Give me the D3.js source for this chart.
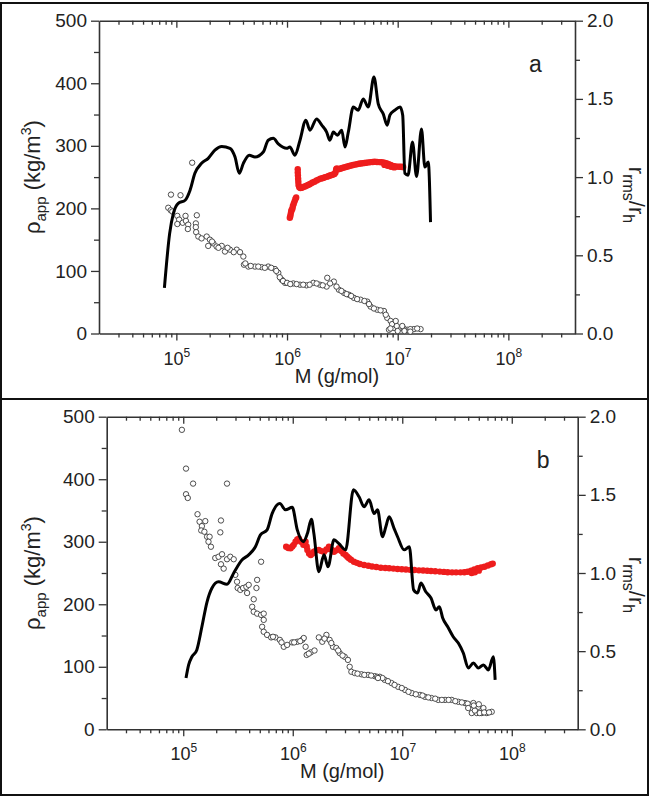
<!DOCTYPE html>
<html>
<head>
<meta charset="utf-8">
<script src="https://cdn.jsdelivr.net/npm/d3@7"></script>
<style>
  body { margin: 0; background: #fff; }
  svg { display: block; }
  text { font-family: "Liberation Sans", Arial, sans-serif; fill: #222; }
</style>
</head>
<body>
<svg id="chart" width="649" height="796"></svg>
<script>
// ---- panel a ----
// black curve: [M (g/mol), value on left axis]
var aLine = [
  [7.8e4, 73], [8.7e4, 160], [9.4e4, 192], [1.04e5, 208], [1.2e5, 213], [1.33e5, 229],
  [1.47e5, 256], [1.69e5, 272], [1.94e5, 280], [2.23e5, 293], [2.57e5, 299], [3.05e5, 296],
  [3.39e5, 282], [3.7e5, 256], [4.03e5, 272], [4.56e5, 285], [5.13e5, 282], [6.1e5, 290],
  [6.76e5, 309], [7.51e5, 312], [8.34e5, 303], [9.93e5, 296], [1.06e6, 298], [1.18e6, 285],
  [1.31e6, 309], [1.48e6, 341], [1.61e6, 325], [1.85e6, 343], [2.06e6, 333], [2.28e6, 322],
  [2.44e6, 309], [2.62e6, 322], [2.85e6, 317], [3.12e6, 325], [3.34e6, 298], [3.58e6, 322],
  [3.97e6, 362], [4.4e6, 357], [4.88e6, 375], [5.42e6, 362], [6.1e6, 410], [6.67e6, 367],
  [7.4e6, 351], [8.04e6, 333], [8.5e6, 349], [9.44e6, 357], [1.05e7, 362], [1.11e7, 349],
  [1.16e7, 256], [1.24e7, 253], [1.36e7, 306], [1.48e7, 251], [1.64e7, 327], [1.76e7, 266],
  [1.89e7, 274], [1.98e7, 178]
];
// open circles: [M, value on left axis]
var aCircles = [
  [8.45e4, 201], [8.89e4, 197], [9.19e4, 195], [8.94e4, 222], [1.09e5, 221], [1.39e5, 273],
  [1.02e5, 188], [1.06e5, 182], [1.14e5, 177], [1.02e5, 175], [1.21e5, 188], [1.22e5, 180],
  [1.28e5, 174], [1.27e5, 167], [1.53e5, 189], [1.5e5, 176], [1.5e5, 170], [1.51e5, 162],
  [1.58e5, 155], [1.69e5, 152], [1.88e5, 155], [2.01e5, 150], [2.16e5, 144], [1.94e5, 140],
  [2.31e5, 139], [2.57e5, 140], [2.75e5, 131], [3.05e5, 134], [3.51e5, 134], [3.76e5, 130],
  [4.03e5, 123], [4.08e5, 110], [4.47e5, 107], [5.13e5, 107], [5.9e5, 106], [6.76e5, 107],
  [7.78e5, 103], [8.34e5, 97], [8.95e5, 86], [9.58e5, 81], [1.14e6, 80], [1.31e6, 78],
  [1.5e6, 77], [1.73e6, 81], [1.98e6, 78], [2.28e6, 75], [2.31e6, 89], [2.65e6, 83],
  [2.94e6, 70], [3.27e6, 65], [3.62e6, 62], [4.02e6, 57], [4.62e6, 54], [5.31e6, 51],
  [5.69e6, 43], [6.53e6, 38], [7.51e6, 36], [8.04e6, 25], [8.63e6, 20], [8.34e6, 6],
  [9.25e6, 9], [1.06e7, 9], [1.22e7, 6], [1.4e7, 7], [1.61e7, 7],
  [2.1e5, 147], [2.4e5, 137], [2.9e5, 137], [3.3e5, 130], [4.2e5, 112], [4.7e5, 108],
  [5.5e5, 107], [6.3e5, 105], [7.2e5, 105], [8.0e5, 100], [8.6e5, 90], [9.2e5, 84],
  [1.0e6, 81], [1.07e6, 79], [1.22e6, 79], [1.4e6, 78], [1.6e6, 78], [1.85e6, 80],
  [2.1e6, 77], [2.45e6, 80], [2.8e6, 75], [3.1e6, 68], [3.45e6, 63], [3.8e6, 60],
  [4.3e6, 55], [5.0e6, 52], [5.5e6, 47], [6.1e6, 40], [7.0e6, 37], [7.8e6, 30],
  [8.9e6, 15], [9.8e6, 12], [1.13e7, 8], [1.3e7, 7], [1.5e7, 8], [8.6e6, 8],
  [1.0e7, 4], [1.15e7, 4], [1.3e7, 3], [9.6e6, 20], [1.1e7, 12]
];
// red dots: [M, value on right axis]
var aRed = [
  [1.06e6, 0.74], [1.07e6, 0.75], [1.08e6, 0.765], [1.09e6, 0.78], [1.1e6, 0.79], [1.12e6, 0.8],
  [1.13e6, 0.815], [1.15e6, 0.83], [1.17e6, 0.845], [1.19e6, 0.86], [1.21e6, 0.87],
  [1.25e6, 1.05], [1.25e6, 1.03], [1.255e6, 1.01], [1.26e6, 0.99], [1.265e6, 0.97], [1.27e6, 0.95],
  [1.29e6, 0.935], [1.32e6, 0.93], [1.36e6, 0.932], [1.4e6, 0.937], [1.45e6, 0.94], [1.5e6, 0.945],
  [1.55e6, 0.95], [1.6e6, 0.955], [1.65e6, 0.96], [1.7e6, 0.965], [1.77e6, 0.97], [1.85e6, 0.978],
  [1.92e6, 0.984], [2.0e6, 0.99], [2.08e6, 0.993], [2.15e6, 0.996], [2.22e6, 1.0], [2.3e6, 1.003],
  [2.38e6, 1.007], [2.45e6, 1.01], [2.53e6, 1.013], [2.6e6, 1.016], [2.68e6, 1.02], [2.74e6, 1.03],
  [2.78e6, 1.05], [2.82e6, 1.055], [2.88e6, 1.05], [2.97e6, 1.052], [3.06e6, 1.055], [3.16e6, 1.058],
  [3.27e6, 1.061], [3.4e6, 1.065], [3.52e6, 1.068], [3.65e6, 1.071], [3.8e6, 1.074], [3.95e6, 1.077],
  [4.1e6, 1.08], [4.27e6, 1.082], [4.45e6, 1.085], [4.62e6, 1.087], [4.8e6, 1.089], [5.0e6, 1.09],
  [5.2e6, 1.092], [5.45e6, 1.094], [5.7e6, 1.096], [5.95e6, 1.097], [6.2e6, 1.098], [6.5e6, 1.097],
  [6.8e6, 1.096], [7.1e6, 1.095], [7.4e6, 1.093], [7.7e6, 1.09], [8.0e6, 1.087], [8.3e6, 1.083],
  [8.6e6, 1.078], [8.9e6, 1.073], [9.2e6, 1.07], [9.5e6, 1.068], [9.9e6, 1.067], [1.03e7, 1.066],
  [1.07e7, 1.066], [1.1e7, 1.065], [1.12e7, 1.065], [7.6e6, 1.078], [8.1e6, 1.072], [8.7e6, 1.066],
  [9.3e6, 1.062]
];

// ---- panel b ----
var bLine = [
  [1.06e5, 82], [1.12e5, 103], [1.2e5, 116], [1.33e5, 127], [1.48e5, 164], [1.65e5, 204],
  [1.83e5, 226], [2.1e5, 236], [2.51e5, 232], [2.89e5, 250], [3.45e5, 271], [3.96e5, 279],
  [4.56e5, 292], [5.07e5, 311], [5.83e5, 319], [6.48e5, 345], [7.62e5, 361], [8.59e5, 351],
  [9.89e5, 355], [1.1e6, 319], [1.25e6, 300], [1.36e6, 313], [1.48e6, 336], [1.56e6, 313],
  [1.73e6, 252], [1.93e6, 279], [2.1e6, 260], [2.38e6, 303], [2.64e6, 297], [3.04e6, 287],
  [3.58e6, 383], [4.03e6, 372], [4.48e6, 356], [4.98e6, 367], [5.53e6, 345], [5.94e6, 351],
  [6.6e6, 308], [7.08e6, 324], [7.59e6, 340], [8.43e6, 321], [9.06e6, 308], [1.04e7, 287],
  [1.16e7, 292], [1.27e7, 223], [1.38e7, 218], [1.48e7, 234], [1.64e7, 220], [1.83e7, 210],
  [2.03e7, 191], [2.18e7, 196], [2.34e7, 178], [2.6e7, 164], [2.92e7, 148], [3.25e7, 138],
  [3.61e7, 122], [4.01e7, 98], [4.46e7, 106], [4.95e7, 98], [5.51e7, 103], [6.11e7, 95],
  [6.79e7, 116], [7.05e7, 79]
];
var bCircles = [
  [9.72e4, 479], [1.06e5, 417], [1.06e5, 376], [1.1e5, 370], [1.23e5, 393], [2.51e5, 393],
  [1.35e5, 344], [1.41e5, 332], [1.48e5, 325], [1.59e5, 333], [1.46e5, 318], [1.56e5, 316],
  [1.65e5, 308], [1.74e5, 308], [1.7e5, 300], [1.79e5, 292], [2.21e5, 334], [2.18e5, 315],
  [1.96e5, 274], [2.1e5, 276], [2.26e5, 280], [2.21e5, 264], [2.34e5, 257], [2.51e5, 272],
  [2.69e5, 276], [2.89e5, 272], [2.99e5, 247], [3.1e5, 236], [3.14e5, 226], [3.32e5, 223],
  [3.52e5, 226], [3.77e5, 228], [3.96e5, 231], [3.83e5, 218], [5.14e5, 268], [4.73e5, 239],
  [4.66e5, 226], [4.4e5, 208], [4.26e5, 196], [4.4e5, 188], [4.73e5, 185], [5.14e5, 183],
  [5.43e5, 185], [5.43e5, 175], [5.25e5, 164], [5.43e5, 156], [5.83e5, 151], [6.35e5, 147],
  [6.95e5, 147], [7.62e5, 143], [8.28e5, 132], [8.89e5, 135], [9.89e5, 139], [1.1e6, 140],
  [1.22e6, 143], [1.26e6, 146], [1.31e6, 132], [1.34e6, 119], [1.46e6, 123], [1.58e6, 126],
  [1.73e6, 147], [1.86e6, 140], [2.03e6, 151], [2.17e6, 143], [2.33e6, 132], [2.5e6, 130],
  [2.68e6, 122], [2.98e6, 116], [3.19e6, 111], [3.31e6, 100], [3.43e6, 92], [3.68e6, 90],
  [4.24e6, 88], [4.87e6, 87], [5.61e6, 85], [6.23e6, 84], [6.92e6, 79], [7.97e6, 74],
  [9.16e6, 68], [1.06e7, 63], [1.22e7, 58], [1.45e7, 55], [1.61e7, 52], [1.85e7, 50],
  [2.13e7, 47], [2.46e7, 47], [2.83e7, 47], [3.25e7, 44], [3.74e7, 42], [4.16e7, 39],
  [4.31e7, 26], [4.79e7, 26], [5.32e7, 26], [5.91e7, 26], [6.56e7, 28], [4.46e7, 42],
  [4.95e7, 36], [5.51e7, 34],
  [1.95e6, 145], [2.25e6, 138], [2.6e6, 126], [2.85e6, 118], [3.9e6, 89], [4.5e6, 87],
  [5.2e6, 86], [5.9e6, 84], [6.6e6, 82], [7.4e6, 77], [8.5e6, 71], [9.9e6, 66],
  [1.14e7, 60], [1.33e7, 56], [1.53e7, 54], [1.73e7, 51], [2.0e7, 49], [2.3e7, 47],
  [2.65e7, 47], [3.05e7, 45], [3.5e7, 43], [3.95e7, 41], [4.6e7, 30], [5.1e7, 26],
  [5.6e7, 27], [6.2e7, 27], [4.0e7, 34], [4.5e7, 38], [5.0e7, 40], [6.0e6, 82],
  [1.03e6, 139], [1.17e6, 141], [1.4e6, 121], [6.6e5, 148], [7.9e5, 139]
];
var bRed = [
  [8.71e5, 1.168], [9.1e5, 1.16], [9.55e5, 1.158], [9.9e5, 1.17], [1.02e6, 1.18], [1.06e6, 1.2],
  [1.1e6, 1.215], [1.14e6, 1.22], [1.19e6, 1.2], [1.25e6, 1.18], [1.28e6, 1.19], [1.31e6, 1.2],
  [1.34e6, 1.17], [1.36e6, 1.147], [1.41e6, 1.125], [1.46e6, 1.115], [1.51e6, 1.125], [1.56e6, 1.136],
  [1.64e6, 1.145], [1.73e6, 1.147], [1.83e6, 1.14], [1.93e6, 1.136], [2.03e6, 1.15], [2.14e6, 1.168],
  [2.25e6, 1.15], [2.38e6, 1.136], [2.5e6, 1.145], [2.64e6, 1.158], [2.78e6, 1.14], [2.9e6, 1.125],
  [3.04e6, 1.115], [3.15e6, 1.104], [3.26e6, 1.094], [3.4e6, 1.085], [3.62e6, 1.072], [3.85e6, 1.065],
  [4.1e6, 1.058], [4.48e6, 1.051], [4.9e6, 1.046], [5.3e6, 1.042], [5.8e6, 1.038], [6.37e6, 1.034],
  [7.0e6, 1.032], [7.6e6, 1.03], [8.3e6, 1.028], [9.06e6, 1.026], [9.9e6, 1.024], [1.08e7, 1.022],
  [1.18e7, 1.02], [1.29e7, 1.019], [1.42e7, 1.017], [1.55e7, 1.016], [1.69e7, 1.014], [1.83e7, 1.013],
  [2.0e7, 1.011], [2.2e7, 1.009], [2.4e7, 1.007], [2.6e7, 1.005], [2.85e7, 1.004], [3.1e7, 1.004],
  [3.4e7, 1.004], [3.69e7, 1.005], [3.95e7, 1.008], [4.25e7, 1.015], [4.55e7, 1.022], [4.89e7, 1.03],
  [5.25e7, 1.035], [5.63e7, 1.04], [6.05e7, 1.048], [6.47e7, 1.056], [6.7e7, 1.06],
  [4.3e7, 1.0], [4.6e7, 1.005], [5.0e7, 1.015]
];

var xTicks = [1e5, 1e6, 1e7, 1e8];
var leftTicks = [0, 100, 200, 300, 400, 500];
var rightTicks = [0, 0.5, 1.0, 1.5, 2.0];

var panels = [
  { box: [1, 3, 647, 396], left: 99, right: 575, top: 20.7, bottom: 333.5,
    line: aLine, circles: aCircles, red: aRed, letter: "a", rLabelY: 195 },
  { box: [1, 399, 647, 396], left: 106.7, right: 577.7, top: 416.7, bottom: 729.3,
    line: bLine, circles: bCircles, red: bRed, letter: "b", rLabelY: 585 }
];

var svg = d3.select("#chart");

function minorLogTicks(domain) {
  var out = [];
  for (var e = 4; e <= 8; e++) {
    for (var k = 2; k <= 9; k++) {
      var v = k * Math.pow(10, e);
      if (v > domain[0] && v < domain[1]) out.push(v);
    }
  }
  return out;
}

function styleAxis(g) {
  g.select(".domain").attr("stroke", "#333").attr("stroke-width", 1.6);
  g.selectAll(".tick line").attr("stroke", "#333").attr("stroke-width", 1.3);
}

function drawPanel(p) {
  svg.append("rect")
    .attr("x", p.box[0]).attr("y", p.box[1])
    .attr("width", p.box[2]).attr("height", p.box[3])
    .attr("fill", "none").attr("stroke", "#111").attr("stroke-width", 2);

  var x = d3.scaleLog().domain([2e4, 4e8]).range([p.left, p.right]);
  var yL = d3.scaleLinear().domain([0, 500]).range([p.bottom, p.top]);
  var yR = d3.scaleLinear().domain([0, 2]).range([p.bottom, p.top]);
  var xMinor = minorLogTicks(x.domain());

  // bottom axis
  var gb = svg.append("g").attr("transform", "translate(0," + p.bottom + ")")
    .call(d3.axisBottom(x).tickValues(xTicks).tickSize(7).tickSizeOuter(0).tickFormat(""));
  styleAxis(gb);
  gb.selectAll(".tick").append("text")
    .attr("y", 31).attr("text-anchor", "middle").attr("font-size", 18)
    .each(function (d) {
      var t = d3.select(this);
      t.append("tspan").text("10");
      t.append("tspan").attr("dy", -8).attr("font-size", 12).text(Math.round(Math.log10(d)));
    });
  var gbm = svg.append("g").attr("transform", "translate(0," + p.bottom + ")")
    .call(d3.axisBottom(x).tickValues(xMinor).tickSize(4).tickFormat(""));
  gbm.select(".domain").remove();
  styleAxis(gbm);

  // top axis, ticks inward
  var gt = svg.append("g").attr("transform", "translate(0," + p.top + ")")
    .call(d3.axisTop(x).tickValues(xTicks).tickSize(-7).tickSizeOuter(0).tickFormat(""));
  styleAxis(gt);
  var gtm = svg.append("g").attr("transform", "translate(0," + p.top + ")")
    .call(d3.axisTop(x).tickValues(xMinor).tickSize(-4).tickFormat(""));
  gtm.select(".domain").remove();
  styleAxis(gtm);

  // left axis
  var gl = svg.append("g").attr("transform", "translate(" + p.left + ",0)")
    .call(d3.axisLeft(yL).tickValues(leftTicks).tickSize(8).tickSizeOuter(0).tickPadding(4));
  styleAxis(gl);
  gl.selectAll(".tick text").attr("font-size", 19).attr("fill", "#222").attr("font-family", null);
  var glm = svg.append("g").attr("transform", "translate(" + p.left + ",0)")
    .call(d3.axisLeft(yL).tickValues([50, 150, 250, 350, 450]).tickSize(5).tickFormat(""));
  glm.select(".domain").remove();
  styleAxis(glm);

  // right axis
  var gr = svg.append("g").attr("transform", "translate(" + p.right + ",0)")
    .call(d3.axisRight(yR).tickValues(rightTicks).tickSize(8).tickSizeOuter(0).tickPadding(4)
      .tickFormat(d3.format(".1f")));
  styleAxis(gr);
  gr.selectAll(".tick text").attr("font-size", 19).attr("fill", "#222").attr("font-family", null);
  var grm = svg.append("g").attr("transform", "translate(" + p.right + ",0)")
    .call(d3.axisRight(yR).tickValues([0.25, 0.75, 1.25, 1.75]).tickSize(5).tickFormat(""));
  grm.select(".domain").remove();
  styleAxis(grm);

  // data
  var plot = svg.append("g");
  plot.selectAll("circle.open").data(p.circles).enter().append("circle")
    .attr("class", "open")
    .attr("cx", function (d) { return x(d[0]); })
    .attr("cy", function (d) { return yL(d[1]); })
    .attr("r", 2.7)
    .attr("fill", "#fff").attr("stroke", "#3a3a3a").attr("stroke-width", 0.9);

  plot.selectAll("circle.red").data(p.red).enter().append("circle")
    .attr("class", "red")
    .attr("cx", function (d) { return x(d[0]); })
    .attr("cy", function (d) { return yR(d[1]); })
    .attr("r", 3.2)
    .attr("fill", "#ee1d1d");

  var line = d3.line()
    .x(function (d) { return x(d[0]); })
    .y(function (d) { return yL(d[1]); })
    .curve(d3.curveMonotoneX);
  plot.append("path").datum(p.line)
    .attr("d", line)
    .attr("fill", "none").attr("stroke", "#000").attr("stroke-width", 3)
    .attr("stroke-linejoin", "round");

  // labels
  var cx = (p.left + p.right) / 2;
  svg.append("text").attr("x", cx).attr("y", p.bottom + 49)
    .attr("text-anchor", "middle").attr("font-size", 20).text("M (g/mol)");

  var yl = svg.append("text")
    .attr("transform", "translate(40," + (p.top + p.bottom) / 2 + ") rotate(-90)")
    .attr("text-anchor", "middle").attr("font-size", 22);
  yl.append("tspan").text("\u03c1");
  yl.append("tspan").attr("font-size", 15).attr("dy", 6).text("app");
  yl.append("tspan").attr("dy", -6).text(" (kg/m");
  yl.append("tspan").attr("font-size", 14).attr("dy", -9).text("3");
  yl.append("tspan").attr("dy", 9).text(")");

  var yr = svg.append("text")
    .attr("transform", "translate(629," + p.rLabelY + ") rotate(90)")
    .attr("text-anchor", "middle").attr("font-size", 22);
  yr.append("tspan").text("r");
  yr.append("tspan").attr("font-size", 16).attr("dy", 6).text("rms");
  yr.append("tspan").attr("dy", -6).text("/r");
  yr.append("tspan").attr("font-size", 16).attr("dy", 6).text("h");

  svg.append("text").attr("x", p.left + 430).attr("y", p.top + 51)
    .attr("font-size", 23).text(p.letter);
}

panels.forEach(drawPanel);
</script>
</body>
</html>
